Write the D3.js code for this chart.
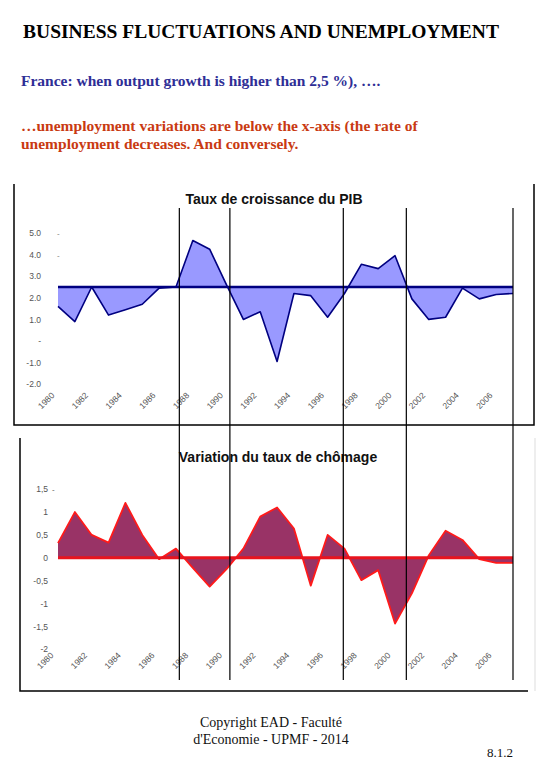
<!DOCTYPE html>
<html lang="fr">
<head>
<meta charset="UTF-8">
<title>Business fluctuations and unemployment</title>
<script src="https://d3js.org/d3.v7.min.js"></script>
<style>
  body { margin: 0; background: #fff; }
  svg { display: block; }
  .serif { font-family: "Liberation Serif", "DejaVu Serif", serif; }
  .sans { font-family: "Liberation Sans", Arial, sans-serif; }
</style>
</head>
<body>
<svg id="chart" width="540" height="780"></svg>
<script>
// années (catégories)
const years = [1980, 1981, 1982, 1983, 1984, 1985, 1986, 1987, 1988, 1989,
               1990, 1991, 1992, 1993, 1994, 1995, 1996, 1997, 1998, 1999,
               2000, 2001, 2002, 2003, 2004, 2005, 2006, 2007];
// taux de croissance du PIB (%)
const gdpGrowth = [1.6, 0.9, 2.5, 1.2, 1.45, 1.7, 2.45, 2.5, 4.65, 4.25,
                   2.6, 1.0, 1.35, -0.95, 2.2, 2.1, 1.1, 2.2, 3.55, 3.35,
                   3.95, 1.95, 1.0, 1.1, 2.45, 1.95, 2.15, 2.2];
// variation du taux de chômage (points)
const unempChange = [0.32, 1.0, 0.5, 0.33, 1.2, 0.5, -0.03, 0.2, -0.22, -0.63,
                     -0.25, 0.2, 0.9, 1.1, 0.64, -0.61, 0.5, 0.2, -0.49, -0.27,
                     -1.44, -0.78, 0.05, 0.59, 0.39, -0.03, -0.11, -0.11];
const gdpThreshold = 2.5;
// années où la croissance croise le seuil (lignes verticales)
const markerYears = [1987.2, 1990.2, 1996.93, 2000.67, 2007];
const yearLabels = [1980, 1982, 1984, 1986, 1988, 1990, 1992, 1994, 1996, 1998, 2000, 2002, 2004, 2006];
const gdpTicks = [5, 4, 3, 2, 1, 0, -1, -2];
const gdpTickLabels = ["5.0", "4.0", "3.0", "2.0", "1.0", "-", "-1.0", "-2.0"];
const unempTicks = [1.5, 1, 0.5, 0, -0.5, -1, -1.5, -2];
const unempTickLabels = ["1,5", "1", "0,5", "0", "-0,5", "-1", "-1,5", "-2"];

const svg = d3.select("#chart");

// ---- en-tête
svg.append("text").attr("class", "serif")
  .attr("x", 261).attr("y", 38).attr("text-anchor", "middle")
  .attr("font-size", 19.5).attr("font-weight", "bold").attr("fill", "#000")
  .text("BUSINESS FLUCTUATIONS AND UNEMPLOYMENT");
svg.append("text").attr("class", "serif")
  .attr("x", 21).attr("y", 86)
  .attr("font-size", 15.5).attr("font-weight", "bold").attr("fill", "#2e2e96")
  .text("France: when output growth is higher than 2,5 %), ….");
const red = "#c93a12";
svg.append("text").attr("class", "serif")
  .attr("x", 21).attr("y", 131)
  .attr("font-size", 15.5).attr("font-weight", "bold").attr("fill", red)
  .text("…unemployment variations are below the x-axis (the rate of");
svg.append("text").attr("class", "serif")
  .attr("x", 21).attr("y", 149)
  .attr("font-size", 15.5).attr("font-weight", "bold").attr("fill", red)
  .text("unemployment decreases. And conversely.");

// ---- échelle commune des x
const x = d3.scaleLinear().domain([1980, 2007]).range([58, 513]);

// ---- cadres
svg.append("path").attr("d", "M14,184V425H534V184")
  .attr("fill", "none").attr("stroke", "#000").attr("stroke-width", 1.5);
svg.append("path").attr("d", "M20,438V691H528")
  .attr("fill", "none").attr("stroke", "#000").attr("stroke-width", 1.5);
svg.append("line").attr("x1", 535).attr("x2", 535).attr("y1", 438).attr("y2", 691)
  .attr("stroke", "#ddd").attr("stroke-width", 1);

// ================= graphique du haut : PIB
const yTop = d3.scaleLinear().domain([-2, 5]).range([384.2, 233]);

svg.append("text").attr("class", "sans")
  .attr("x", 274).attr("y", 204).attr("text-anchor", "middle")
  .attr("font-size", 14).attr("font-weight", "bold").attr("fill", "#111")
  .text("Taux de croissance du PIB");

const gTop = svg.append("g");
gTop.append("path").datum(gdpGrowth)
  .attr("fill", "#9999ff").attr("stroke", "none")
  .attr("d", d3.area()
    .x((d, i) => x(years[i]))
    .y0(yTop(gdpThreshold))
    .y1(d => yTop(d)));
gTop.append("path").datum(gdpGrowth)
  .attr("fill", "none").attr("stroke", "#000080").attr("stroke-width", 1.6)
  .attr("stroke-linejoin", "round")
  .attr("d", d3.line().x((d, i) => x(years[i])).y(d => yTop(d)));
gTop.append("line")
  .attr("x1", x(1980)).attr("x2", x(2007))
  .attr("y1", yTop(gdpThreshold)).attr("y2", yTop(gdpThreshold))
  .attr("stroke", "#000080").attr("stroke-width", 2.4);

const axTop = svg.append("g").attr("class", "sans")
  .attr("transform", "translate(41,0)")
  .call(d3.axisLeft(yTop).tickValues(gdpTicks).tickSize(0).tickPadding(0)
    .tickFormat((d, i) => gdpTickLabels[i]));
axTop.select(".domain").remove();
axTop.selectAll("text").attr("font-size", 8.5).attr("fill", "#555")
  .attr("font-family", "Liberation Sans, Arial, sans-serif");
svg.selectAll(".topdash").data([5, 4]).join("text").attr("class", "sans")
  .attr("x", 57).attr("y", d => yTop(d) + 3)
  .attr("font-size", 8).attr("fill", "#777").text("-");

svg.append("g").selectAll("text").data(yearLabels).join("text")
  .attr("class", "sans")
  .attr("transform", d => `translate(${x(d) - 3},396) rotate(-45)`)
  .attr("text-anchor", "end")
  .attr("font-size", 8.5).attr("fill", "#555")
  .text(d => d);

// ================= graphique du bas : chômage
const yBot = d3.scaleLinear().domain([-2, 1.5]).range([649.2, 489.2]);

svg.append("text").attr("class", "sans")
  .attr("x", 278).attr("y", 462).attr("text-anchor", "middle")
  .attr("font-size", 14).attr("font-weight", "bold").attr("fill", "#111")
  .text("Variation du taux de chômage");

const gBot = svg.append("g");
gBot.append("path").datum(unempChange)
  .attr("fill", "#993366").attr("stroke", "none")
  .attr("d", d3.area()
    .x((d, i) => x(years[i]))
    .y0(yBot(0))
    .y1(d => yBot(d)));
gBot.append("path").datum(unempChange)
  .attr("fill", "none").attr("stroke", "#ff1a1a").attr("stroke-width", 1.8)
  .attr("stroke-linejoin", "round")
  .attr("d", d3.line().x((d, i) => x(years[i])).y(d => yBot(d)));
gBot.append("line")
  .attr("x1", x(1980)).attr("x2", x(2007))
  .attr("y1", yBot(0)).attr("y2", yBot(0))
  .attr("stroke", "#e8141e").attr("stroke-width", 3);

const axBot = svg.append("g").attr("class", "sans")
  .attr("transform", "translate(48,0)")
  .call(d3.axisLeft(yBot).tickValues(unempTicks).tickSize(0).tickPadding(0)
    .tickFormat((d, i) => unempTickLabels[i]));
axBot.select(".domain").remove();
axBot.selectAll("text").attr("font-size", 8.5).attr("fill", "#555")
  .attr("font-family", "Liberation Sans, Arial, sans-serif");
svg.append("text").attr("class", "sans")
  .attr("x", 52).attr("y", yBot(1.5) + 3)
  .attr("font-size", 8).attr("fill", "#555").text("-");

svg.append("g").selectAll("text").data(yearLabels).join("text")
  .attr("class", "sans")
  .attr("transform", d => `translate(${x(d) - 4},656) rotate(-45)`)
  .attr("text-anchor", "end")
  .attr("font-size", 8.5).attr("fill", "#555")
  .text(d => d);

// ---- lignes verticales (traversent les deux graphiques)
svg.append("g").selectAll("line").data(markerYears).join("line")
  .attr("x1", d => x(d)).attr("x2", d => x(d))
  .attr("y1", 208).attr("y2", 680)
  .attr("stroke", "#000").attr("stroke-width", 1.2);

// ---- pied de page
svg.append("text").attr("class", "serif")
  .attr("x", 271).attr("y", 727).attr("text-anchor", "middle")
  .attr("font-size", 14).attr("fill", "#111")
  .text("Copyright EAD - Faculté");
svg.append("text").attr("class", "serif")
  .attr("x", 271).attr("y", 744).attr("text-anchor", "middle")
  .attr("font-size", 14).attr("fill", "#111")
  .text("d'Economie - UPMF  - 2014");
svg.append("text").attr("class", "serif")
  .attr("x", 513).attr("y", 757).attr("text-anchor", "end")
  .attr("font-size", 13).attr("fill", "#111")
  .text("8.1.2");
</script>
</body>
</html>
